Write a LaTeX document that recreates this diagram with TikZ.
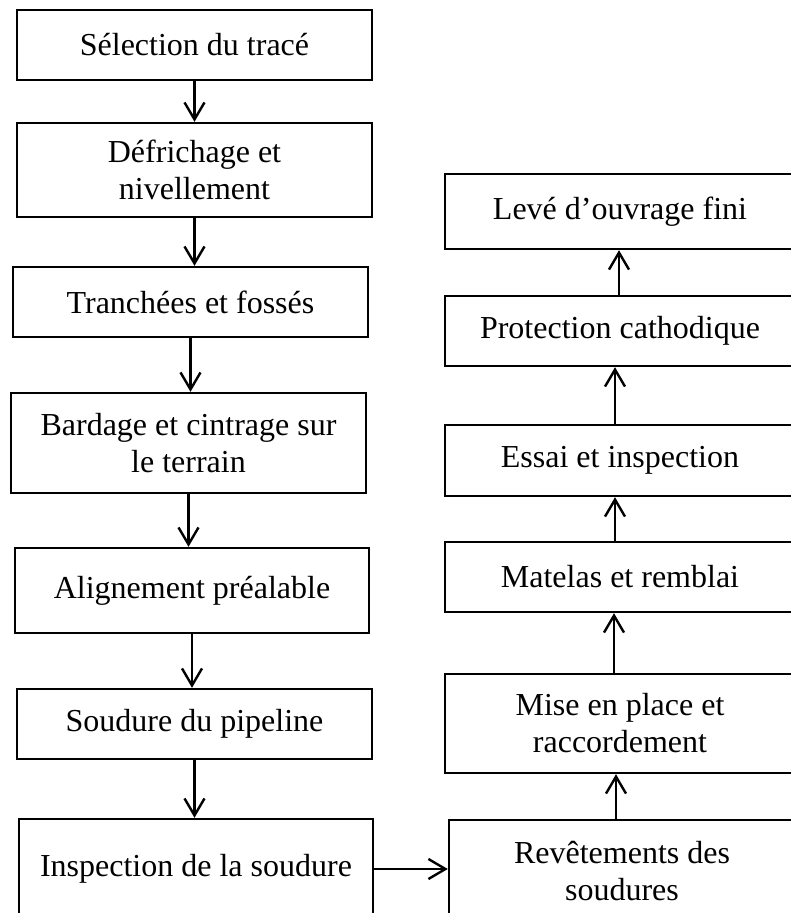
\documentclass[tikz,border=0pt]{standalone}
\usepackage{fontspec}
\setmainfont{Liberation Serif}
\usetikzlibrary{arrows.meta}
\begin{document}
\begin{tikzpicture}[x=1pt,y=-1pt,
  stagebox/.style={draw=black, line width=2.4pt, inner sep=0pt, align=center,
    font=\fontsize{32}{37}\selectfont},
  flow/.style={draw=black, line width=2.4pt,
    -{Straight Barb[length=17pt,width=20pt,line width=2.4pt]}}]
\useasboundingbox (0,0) rectangle (791,913);
\clip (0,0) rectangle (791,913);

% left column, top to bottom
\node[stagebox, minimum width=355pt, minimum height=70pt]  (A) at (194.5,45)  {Sélection du tracé};
\node[stagebox, minimum width=355pt, minimum height=94pt]  (B) at (194.5,170) {Défrichage et\\nivellement};
\node[stagebox, minimum width=355pt, minimum height=70pt]  (C) at (190.5,302) {Tranchées et fossés};
\node[stagebox, minimum width=355pt, minimum height=100pt] (D) at (188.5,443) {Bardage et cintrage sur\\le terrain};
\node[stagebox, minimum width=354pt, minimum height=85pt]  (E) at (192,590.5) {Alignement préalable};
\node[stagebox, minimum width=355pt, minimum height=70pt]  (F) at (194.5,724) {Soudure du pipeline};
\node[stagebox, minimum width=354pt, minimum height=100pt] (G) at (196,869)   {Inspection de la soudure};

% right column, bottom to top
\node[stagebox, minimum width=346pt, minimum height=102pt] (M) at (622,871)   {Revêtements des\\soudures};
\node[stagebox, minimum width=350pt, minimum height=99pt]  (L) at (620,723.5) {Mise en place et\\raccordement};
\node[stagebox, minimum width=350pt, minimum height=70pt]  (K) at (620,577)   {Matelas et remblai};
\node[stagebox, minimum width=350pt, minimum height=71pt]  (J) at (620,460.5) {Essai et inspection};
\node[stagebox, minimum width=350pt, minimum height=70pt]  (I) at (620,331)   {Protection cathodique};
\node[stagebox, minimum width=350pt, minimum height=75pt]  (H) at (620,211.5) {Levé d’ouvrage fini};

% downward chain
\draw[flow] (A.south) -- (A.south |- B.north);
\draw[flow] (B.south) -- (B.south |- C.north);
\draw[flow] (C.south) -- (C.south |- D.north);
\draw[flow] (D.south) -- (D.south |- E.north);
\draw[flow] (E.south) -- (E.south |- F.north);
\draw[flow] (F.south) -- (F.south |- G.north);

% across
\draw[flow] (G.east) -- (G.east -| M.west);

% upward chain
\draw[flow] ([xshift=-6pt]M.north) -- ([xshift=-6pt]M.north |- L.south);
\draw[flow] ([xshift=-6pt]L.north) -- ([xshift=-6pt]L.north |- K.south);
\draw[flow] ([xshift=-5pt]K.north) -- ([xshift=-5pt]K.north |- J.south);
\draw[flow] ([xshift=-5pt]J.north) -- ([xshift=-5pt]J.north |- I.south);
\draw[flow] ([xshift=-1pt]I.north) -- ([xshift=-1pt]I.north |- H.south);
\end{tikzpicture}
\end{document}
